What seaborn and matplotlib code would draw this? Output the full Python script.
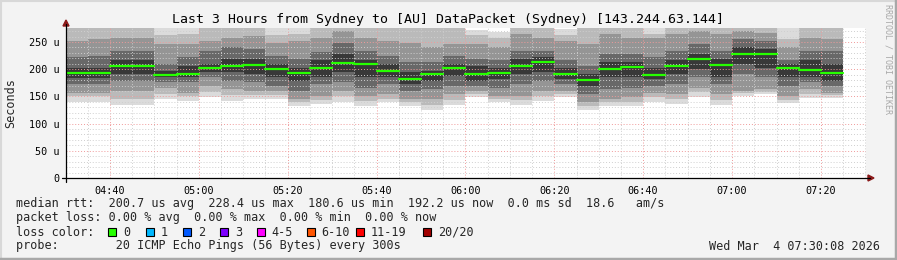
import numpy as np
import pandas as pd
import matplotlib
matplotlib.use("Agg")
import matplotlib.pyplot as plt
import matplotlib.dates as mdates
from matplotlib.lines import Line2D
from matplotlib.patches import Polygon, Rectangle
import seaborn as sns

# ---------------- data ----------------
title = "Last 3 Hours from Sydney to [AU] DataPacket (Sydney) [143.244.63.144]"
start_time = "2026-03-04 04:30"
n_bars = 35
window_start = "2026-03-04 04:30:08"
window_end = "2026-03-04 07:30:08"

median = [193.6, 193.6, 206.5, 206.5, 189.3, 191.2, 202.2, 205.9, 208.3, 201.0,
          193.6, 202.8, 212.0, 210.2, 197.3, 182.6, 191.8, 202.8, 191.2, 193.6,
          206.5, 213.8, 191.8, 180.6, 200.4, 204.7, 189.3, 205.9, 219.4, 208.3,
          228.4, 227.5, 202.8, 198.5, 192.2]

outer_lo = [139, 139, 134, 134, 145, 141, 149, 142, 145, 145, 133, 136, 139, 133, 139,
            133, 125, 134, 148, 140, 134, 142, 149, 125, 132, 133, 139, 136, 149, 134,
            151, 154, 138, 147, 147]
outer_hi = [280, 280, 280, 280, 280, 280, 280, 280, 280, 280, 280, 280, 280, 280, 280,
            280, 280, 280, 272, 269, 280, 280, 273, 280, 271, 280, 280, 280, 280, 280,
            280, 274, 280, 280, 280]
band1_lo = [150, 150, 146, 146, 155, 150, 158, 152, 152, 152, 139, 143, 150, 142, 146,
            139, 135, 144, 154, 145, 143, 151, 155, 132, 139, 140, 148, 145, 158, 144,
            156, 158, 144, 155, 152]
band1_hi = [280, 280, 280, 280, 262, 265, 280, 280, 280, 262, 265, 280, 280, 280, 280,
            280, 280, 280, 262, 258, 280, 280, 262, 280, 280, 280, 265, 280, 280, 280,
            280, 280, 255, 280, 280]
band2_lo = [157, 157, 160, 160, 166, 157, 169, 163, 160, 160, 145, 151, 160, 151, 154,
            145, 145, 154, 160, 151, 151, 160, 160, 139, 145, 148, 157, 154, 166, 154,
            160, 163, 151, 163, 157]
band2_hi = [252, 255, 258, 258, 246, 246, 252, 258, 261, 249, 252, 258, 271, 258, 252,
            249, 240, 246, 246, 240, 264, 258, 252, 246, 264, 258, 258, 264, 271, 264,
            271, 267, 240, 258, 255]
band3_lo = [173, 173, 179, 179, 176, 176, 185, 179, 176, 169, 160, 173, 176, 166, 173,
            160, 163, 169, 169, 166, 173, 179, 173, 154, 163, 166, 169, 173, 185, 173,
            191, 185, 169, 176, 169]
band3_hi = [222, 225, 234, 234, 209.5, 222, 234, 240, 237, 225, 219, 231, 249, 234, 225,
            213, 213, 225, 219, 216, 234, 234, 216, 206, 228, 228, 222, 234, 246, 234,
            255, 252, 216, 234, 234]
inner_lo = [183, 183, 191, 191, 185, 185, 194, 194, 191, 185, 179, 185, 194, 185, 185,
            173, 179, 188, 179, 182, 191, 194, 182, 169, 185, 185, 182, 191, 200, 185,
            209.5, 203, 185, 185, 179]
inner_hi = [203, 203, 216, 216, 197, 206, 209.5, 219, 219, 209.5, 203, 216, 228, 216, 209.5,
            194, 197, 209.5, 206, 203, 219, 222, 203, 191, 213, 213, 203, 216, 228, 219,
            240, 237, 209.5, 216, 209.5]

legend_rtt = "median rtt:  200.7 us avg  228.4 us max  180.6 us min  192.2 us now  0.0 ms sd  18.6   am/s"
legend_loss = "packet loss: 0.00 % avg  0.00 % max  0.00 % min  0.00 % now"
loss_labels = ["0", "1", "2", "3", "4-5", "6-10", "11-19", "20/20"]
loss_colors = ["#26ff00", "#00b8ff", "#0059ff", "#7e00ff", "#ff00ff", "#ff5500", "#ff0000", "#a10000"]
probe_text = "probe:        20 ICMP Echo Pings (56 Bytes) every 300s"
date_text = "Wed Mar  4 07:30:08 2026"
y_ticks = [0, 50, 100, 150, 200, 250]

# ---------------- figure ----------------
sns.set_theme(style="white")
plt.rcParams['font.family'] = ['DejaVu Sans Mono']

W, H = 897, 260
BG = "#f3f3f3"
fig = plt.figure(figsize=(W / 100, H / 100), dpi=100, facecolor=BG)


def fx(x):
    return x / W


def fy(y):
    return 1 - y / H


ax = fig.add_axes([fx(66), fy(178), (866 - 66) / W, (178 - 28) / H])
ax.set_facecolor("white")

times = pd.date_range(start_time, periods=n_bars, freq="5min")
step = pd.Timedelta(minutes=5)
width_days = step / pd.Timedelta(days=1)

layers = [
    (outer_lo, outer_hi, "#dbdbdb"),
    (band1_lo, band1_hi, "#bababa"),
    (band2_lo, band2_hi, "#959595"),
    (band3_lo, band3_hi, "#686868"),
    (inner_lo, inner_hi, "#383838"),
]
for lo, hi, col in layers:
    lo = np.array(lo, float)
    hi = np.array(hi, float)
    ax.bar(times, hi - lo, bottom=lo, width=width_days, align="edge",
           color=col, linewidth=0, zorder=1)

med_df = pd.DataFrame({
    "t": list(times) + list(times + step),
    "rtt": median + median,
    "bar": list(range(n_bars)) * 2,
})
sns.lineplot(data=med_df, x="t", y="rtt", units="bar", estimator=None,
             color="#26ff00", linewidth=1.6, ax=ax, zorder=4)

ax.set_xlim(pd.Timestamp(window_start), pd.Timestamp(window_end))
ax.set_ylim(0, 275.7)

ax.xaxis.set_major_locator(mdates.MinuteLocator(byminute=[0, 20, 40]))
ax.xaxis.set_minor_locator(mdates.MinuteLocator(byminute=range(0, 60, 5)))
ax.xaxis.set_major_formatter(mdates.DateFormatter("%H:%M"))
ax.set_yticks(y_ticks)
ax.set_yticklabels(["0" if v == 0 else f"{v} u" for v in y_ticks])
ax.yaxis.set_minor_locator(matplotlib.ticker.MultipleLocator(10))

ax.set_axisbelow(False)
ax.grid(which="minor", color="#cfcfcf", linestyle=(0, (1, 2)), linewidth=0.7, zorder=3)
ax.grid(which="major", color="#f09a9a", linestyle=(0, (1, 2)), linewidth=0.7, zorder=3)

ax.tick_params(axis="both", which="both", direction="out", color="black",
               labelsize=7.3, labelcolor="black", width=0.7)
ax.tick_params(axis="x", which="major", length=2.5, pad=3.5)
ax.tick_params(axis="x", which="minor", length=1.5)
ax.tick_params(axis="y", which="major", length=1.5, pad=3.2)
ax.tick_params(axis="y", which="minor", length=1.5)
ax.set_xlabel("")
ax.set_ylabel("")
for s in ax.spines.values():
    s.set_visible(False)

# axis lines with arrows
fig.add_artist(Line2D([fx(62), fx(870)], [fy(178), fy(178)], color="black", lw=0.9))
fig.add_artist(Line2D([fx(66), fx(66)], [fy(182), fy(24)], color="black", lw=0.9))
fig.add_artist(Polygon([[fx(868), fy(175)], [fx(874), fy(178)], [fx(868), fy(181)]],
                       closed=True, color="#8b1a1a", transform=fig.transFigure))
fig.add_artist(Polygon([[fx(63), fy(26)], [fx(66), fy(20)], [fx(69), fy(26)]],
                       closed=True, color="#8b1a1a", transform=fig.transFigure))

# texts
fig.text(fx(448), fy(19), title, ha="center", va="center", fontsize=9.5, color="black")
fig.text(fx(11), fy(103), "Seconds", ha="center", va="center", rotation=90, fontsize=8.5)
fig.text(fx(888), fy(59), "RRDTOOL / TOBI OETIKER", ha="center", va="center",
         rotation=270, fontsize=6.0, color="#a8a8a8")

fs = 8.5
fig.text(fx(16), fy(204), legend_rtt, ha="left", va="center", fontsize=fs)
fig.text(fx(16), fy(218), legend_loss, ha="left", va="center", fontsize=fs)
fig.text(fx(16), fy(232), "loss color:", ha="left", va="center", fontsize=fs)
sq_x = [108.3, 145.7, 182.7, 220, 256.7, 306.7, 356, 423]
for sx, lab, col in zip(sq_x, loss_labels, loss_colors):
    fig.add_artist(Rectangle((fx(sx), fy(236)), 8 / W, 8 / H, facecolor=col,
                             edgecolor="black", linewidth=0.8, transform=fig.transFigure))
    fig.text(fx(sx + 15), fy(232), lab, ha="left", va="center", fontsize=fs)
fig.text(fx(16), fy(246), probe_text, ha="left", va="center", fontsize=fs)
fig.text(fx(880), fy(246), date_text, ha="right", va="center", fontsize=fs)

# 3D frame
fig.add_artist(Line2D([0, 1], [fy(0.5), fy(0.5)], color="#d8d8d8", lw=1.5))
fig.add_artist(Line2D([fx(0.5), fx(0.5)], [0, 1], color="#d8d8d8", lw=1.5))
fig.add_artist(Line2D([0, 1], [fy(258.5), fy(258.5)], color="#a8a8a8", lw=2.5))
fig.add_artist(Line2D([fx(895.5), fx(895.5)], [0, 1], color="#a8a8a8", lw=2.5))

fig.savefig("out.png", dpi=100, facecolor=BG)
